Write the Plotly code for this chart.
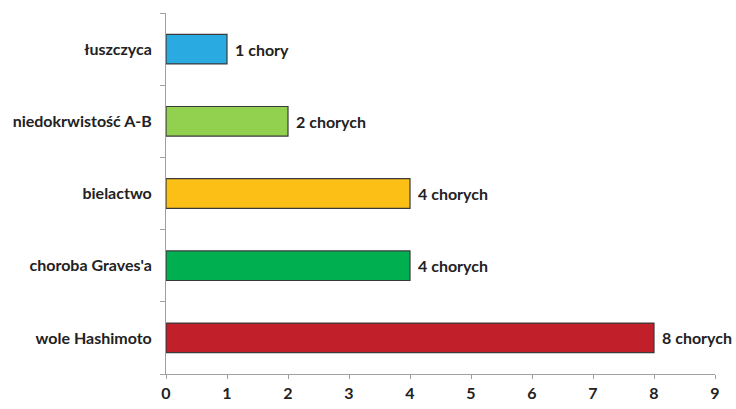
import plotly.graph_objects as go

categories = ["wole Hashimoto", "choroba Graves'a", "bielactwo", "niedokrwistość A-B", "łuszczyca"]
values = [8, 4, 4, 2, 1]
labels = ["8 chorych", "4 chorych", "4 chorych", "2 chorych", "1 chory"]
colors = ["#C1202A", "#00B050", "#FCBF16", "#92D050", "#29ABE2"]
x_ticks = [0, 1, 2, 3, 4, 5, 6, 7, 8, 9]

font_family = "Lato, 'Open Sans', sans-serif"
fsize = 16

fig = go.Figure(go.Bar(
    y=categories, x=values, orientation="h",
    marker=dict(color=colors, line=dict(color="#3a3a3a", width=1.2)),
    width=0.41,
))

for cat, v, lab in zip(categories, values, labels):
    fig.add_annotation(x=v, y=cat, text=lab, showarrow=False, xanchor="left",
                       xshift=6, font=dict(family=font_family, size=fsize, color="#222222", weight="bold"))

fig.update_layout(
    width=736, height=409,
    margin=dict(l=166, r=21, t=13, b=35, autoexpand=False),
    paper_bgcolor="white", plot_bgcolor="white",
    showlegend=False,
    font=dict(family=font_family, size=fsize, color="#222222"),
    xaxis=dict(range=[0, 9], tickvals=x_ticks, showgrid=False, zeroline=False, automargin=False,
               showline=True, linecolor="#a0a0a0", linewidth=1,
               ticks="outside", ticklen=4, tickcolor="#a0a0a0", ticklabelstandoff=1,
               tickfont=dict(family=font_family, size=fsize, color="#222222", weight="bold")),
    yaxis=dict(range=[-0.5, 4.5], type="category", showgrid=False, zeroline=False, automargin=False,
               showline=True, linecolor="#a0a0a0", linewidth=1,
               ticks="outside", ticklen=5, tickcolor="#a0a0a0", tickson="boundaries",
               ticklabelstandoff=10,
               tickfont=dict(family=font_family, size=fsize, color="#222222", weight="bold")),
)

fig.write_html("out.html")
